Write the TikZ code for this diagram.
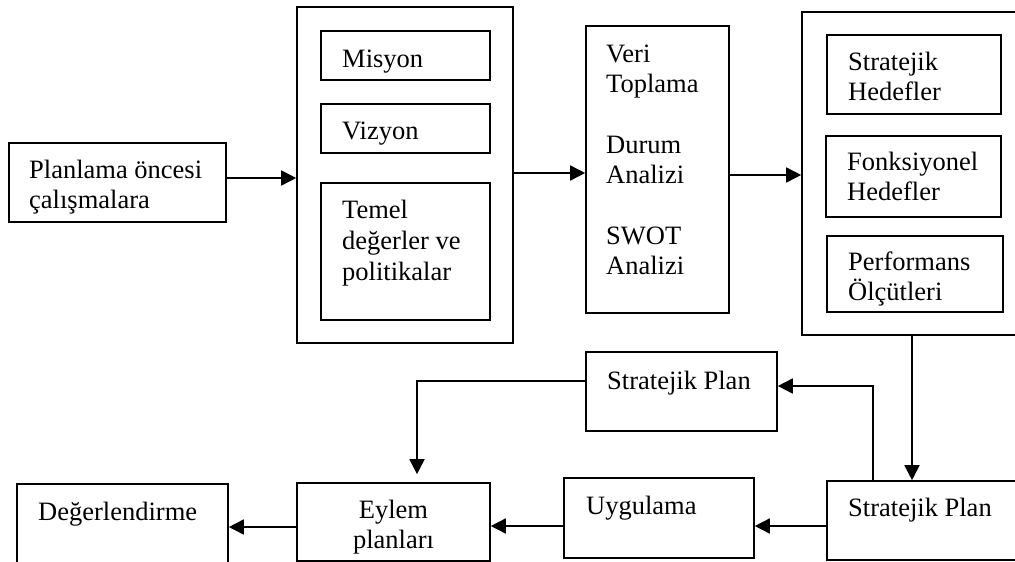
\documentclass[tikz,border=0pt]{standalone}
\usepackage{fontspec}
\setmainfont{Liberation Serif}
\usetikzlibrary{arrows.meta}
\begin{document}
\begin{tikzpicture}[x=1pt,y=-1pt,
  box/.style={draw, line width=1.6pt, inner sep=0pt},
  lbl/.style={anchor=base west, inner sep=0pt, align=left, font=\fontsize{26.5}{30}\selectfont},
  clbl/.style={anchor=base, inner sep=0pt, align=center, font=\fontsize{26.5}{30}\selectfont},
  link/.style={line width=1.6pt, -{Triangle[length=15pt,width=15pt]}}]
\useasboundingbox (0,0) rectangle (1015,562);
\clip (0,0) rectangle (1015,562);

% boxes (width x height, centre)
\node[box, minimum width=217pt, minimum height=79pt]  (A)  at (117.5,182.5) {};
\node[box, minimum width=216pt, minimum height=336pt] (B)  at (405,175) {};
\node[box, minimum width=169pt, minimum height=49pt]  (B1) at (405.5,55.5) {};
\node[box, minimum width=169pt, minimum height=49pt]  (B2) at (405.5,128.5) {};
\node[box, minimum width=169pt, minimum height=137pt] (B3) at (405.5,251.5) {};
\node[box, minimum width=143pt, minimum height=287pt] (C)  at (657.5,169.5) {};
\node[box, minimum width=238pt, minimum height=323pt] (D)  at (921,173.5) {};
\node[box, minimum width=174pt, minimum height=79pt]  (D1) at (914,74.5) {};
\node[box, minimum width=175pt, minimum height=81pt]  (D2) at (913.5,176.5) {};
\node[box, minimum width=176pt, minimum height=76pt]  (D3) at (915,274) {};
\node[box, minimum width=191pt, minimum height=79pt]  (F)  at (681.5,391.5) {};
\node[box, minimum width=213pt, minimum height=79pt]  (E)  at (933.5,520.5) {};
\node[box, minimum width=190pt, minimum height=80pt]  (U)  at (659,518) {};
\node[box, minimum width=193pt, minimum height=78pt]  (G)  at (393.5,522) {};
\node[box, minimum width=211pt, minimum height=136pt] (H)  at (122.5,552) {};

% texts (anchored at the baseline of their last line)
\node[lbl] (tA)  at (29,208)  {Planlama öncesi\\çalışmalara};
\node[lbl] (tB1) at (342,67)  {Misyon};
\node[lbl] (tB2) at (342,139) {Vizyon};
\node[lbl, font=\fontsize{26.5}{31}\selectfont] (tB3) at (342,280) {Temel\\değerler ve\\politikalar};
\node[lbl] (tC1) at (606,92)  {Veri\\Toplama};
\node[lbl] (tC2) at (606,183) {Durum\\Analizi};
\node[lbl] (tC3) at (606,274) {SWOT\\Analizi};
\node[lbl] (tD1) at (848,100) {Stratejik\\Hedefler};
\node[lbl] (tD2) at (847,200) {Fonksiyonel\\Hedefler};
\node[lbl] (tD3) at (848,300) {Performans\\Ölçütleri};
\node[lbl] (tF)  at (607,389) {Stratejik Plan};
\node[lbl] (tE)  at (848,516) {Stratejik Plan};
\node[lbl] (tU)  at (586,514) {Uygulama};
\node[clbl] (tG) at (393.5,548) {Eylem\\planları};
\node[lbl] (tH)  at (38,520)  {Değerlendirme};

% connectors
\draw[link] ([yshift=4.5pt]A.east) -- ([yshift=4.5pt]A.east -| B.west);
\draw[link] ([yshift=2pt]B.east) -- ([yshift=2pt]B.east -| C.west);
\draw[link] ([yshift=-5.5pt]C.east) -- ([yshift=-5.5pt]C.east -| D.west);
\draw[link] ([xshift=-9pt]D.south) -- ([xshift=-9pt]D.south |- E.north);
\draw[link] ([xshift=-60.5pt]E.north) |- ([yshift=5.5pt]F.east);
\draw[link] ([yshift=10.5pt]F.west) -| ([xshift=23.5pt,yshift=8pt]G.north);
\draw[link] ([yshift=-5.5pt]E.west) -- ([yshift=-5.5pt]E.west -| U.east);
\draw[link] ([yshift=-8pt]U.west) -- ([yshift=-8pt]U.west -| G.east);
\draw[link] ([yshift=-5pt]G.west) -- ([yshift=-5pt]G.west -| H.east);
\end{tikzpicture}
\end{document}
